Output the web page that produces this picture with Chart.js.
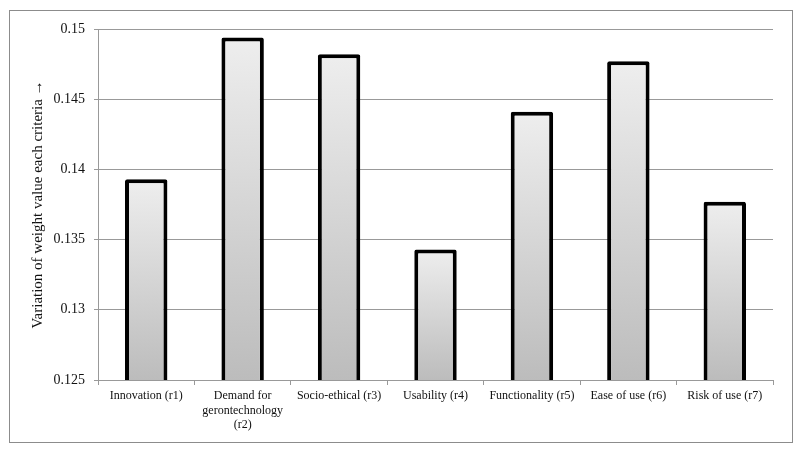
<!DOCTYPE html>
<html lang="en">
    <head>
        <meta charset="UTF-8" />
        <title>Variation of weight value each criteria</title>
        <script src="https://cdn.jsdelivr.net/npm/chart.js"></script>
        <style>
            body {
                margin: 0;
                background: #fff;
            }
            .chart-box {
                width: 810px;
                height: 452px;
                position: relative;
            }
        </style>
    </head>
    <body>
        <div class="chart-box">
            <canvas id="weightChart"></canvas>
        </div>

        <script>
            // criteria and their weight values
            const criteria = [
                'Innovation (r1)',
                ['Demand for', 'gerontechnology', '(r2)'],
                'Socio-ethical (r3)',
                'Usability (r4)',
                'Functionality (r5)',
                'Ease of use (r6)',
                'Risk of use (r7)',
            ];
            const weights = [0.1393, 0.1494, 0.1482, 0.1343, 0.1441, 0.1477, 0.1377];
            const yTicks = [0.125, 0.13, 0.135, 0.14, 0.145, 0.15];

            // frame around the whole figure
            const framePlugin = {
                id: 'frame',
                beforeDraw(chart) {
                    const c = chart.ctx;
                    c.save();
                    c.fillStyle = '#fff';
                    c.fillRect(0, 0, chart.width, chart.height);
                    c.strokeStyle = '#8c8c8c';
                    c.lineWidth = 1;
                    c.strokeRect(9.5, 10.5, 783, 432);
                    c.restore();
                },
            };

            // each bar gets its own light-to-grey gradient
            function barFill(context) {
                const chart = context.chart;
                const area = chart.chartArea;
                if (!area || context.raw === undefined) return '#d8d8d8';
                const top = chart.scales.y.getPixelForValue(context.raw);
                const g = chart.ctx.createLinearGradient(0, top, 0, area.bottom);
                g.addColorStop(0, '#eeeeee');
                g.addColorStop(1, '#bcbcbc');
                return g;
            }

            const serif = 'Liberation Serif, Times New Roman, serif';

            new Chart(document.getElementById('weightChart'), {
                type: 'bar',
                data: {
                    labels: criteria,
                    datasets: [
                        {
                            data: weights,
                            backgroundColor: barFill,
                            borderColor: '#000',
                            borderWidth: 4,
                            borderRadius: 2,
                            borderSkipped: false,
                            categoryPercentage: 1,
                            barPercentage: 0.44,
                        },
                    ],
                },
                options: {
                    responsive: true,
                    maintainAspectRatio: false,
                    animation: false,
                    layout: {
                        padding: { top: 29, right: 37, left: 29, bottom: 0 },
                    },
                    plugins: {
                        legend: { display: false },
                        tooltip: { enabled: false },
                    },
                    scales: {
                        x: {
                            grid: {
                                offset: true,
                                drawOnChartArea: false,
                                drawTicks: true,
                                tickLength: 5,
                                color: '#999',
                            },
                            border: { color: '#999', width: 1 },
                            ticks: {
                                color: '#111',
                                font: { family: serif, size: 12 },
                                maxRotation: 0,
                                autoSkip: false,
                                padding: 4,
                            },
                            afterFit(scale) {
                                scale.height = 72;
                            },
                        },
                        y: {
                            min: 0.125,
                            max: 0.15,
                            afterBuildTicks(scale) {
                                scale.ticks = yTicks.map((v) => ({ value: v }));
                            },
                            grid: {
                                color: '#999',
                                tickLength: 4,
                            },
                            border: { color: '#999', width: 1 },
                            ticks: {
                                color: '#111',
                                padding: 9,
                                font: { family: serif, size: 14 },
                                callback: (v) => String(parseFloat(v.toFixed(3))),
                            },
                            title: {
                                display: true,
                                text: 'Variation of weight value each criteria \u2192',
                                color: '#111',
                                font: { family: serif, size: 15 },
                                padding: { top: 0, bottom: 0 },
                            },
                            afterFit(scale) {
                                scale.width = 69;
                            },
                        },
                    },
                },
                plugins: [framePlugin],
            });
        </script>
    </body>
</html>
